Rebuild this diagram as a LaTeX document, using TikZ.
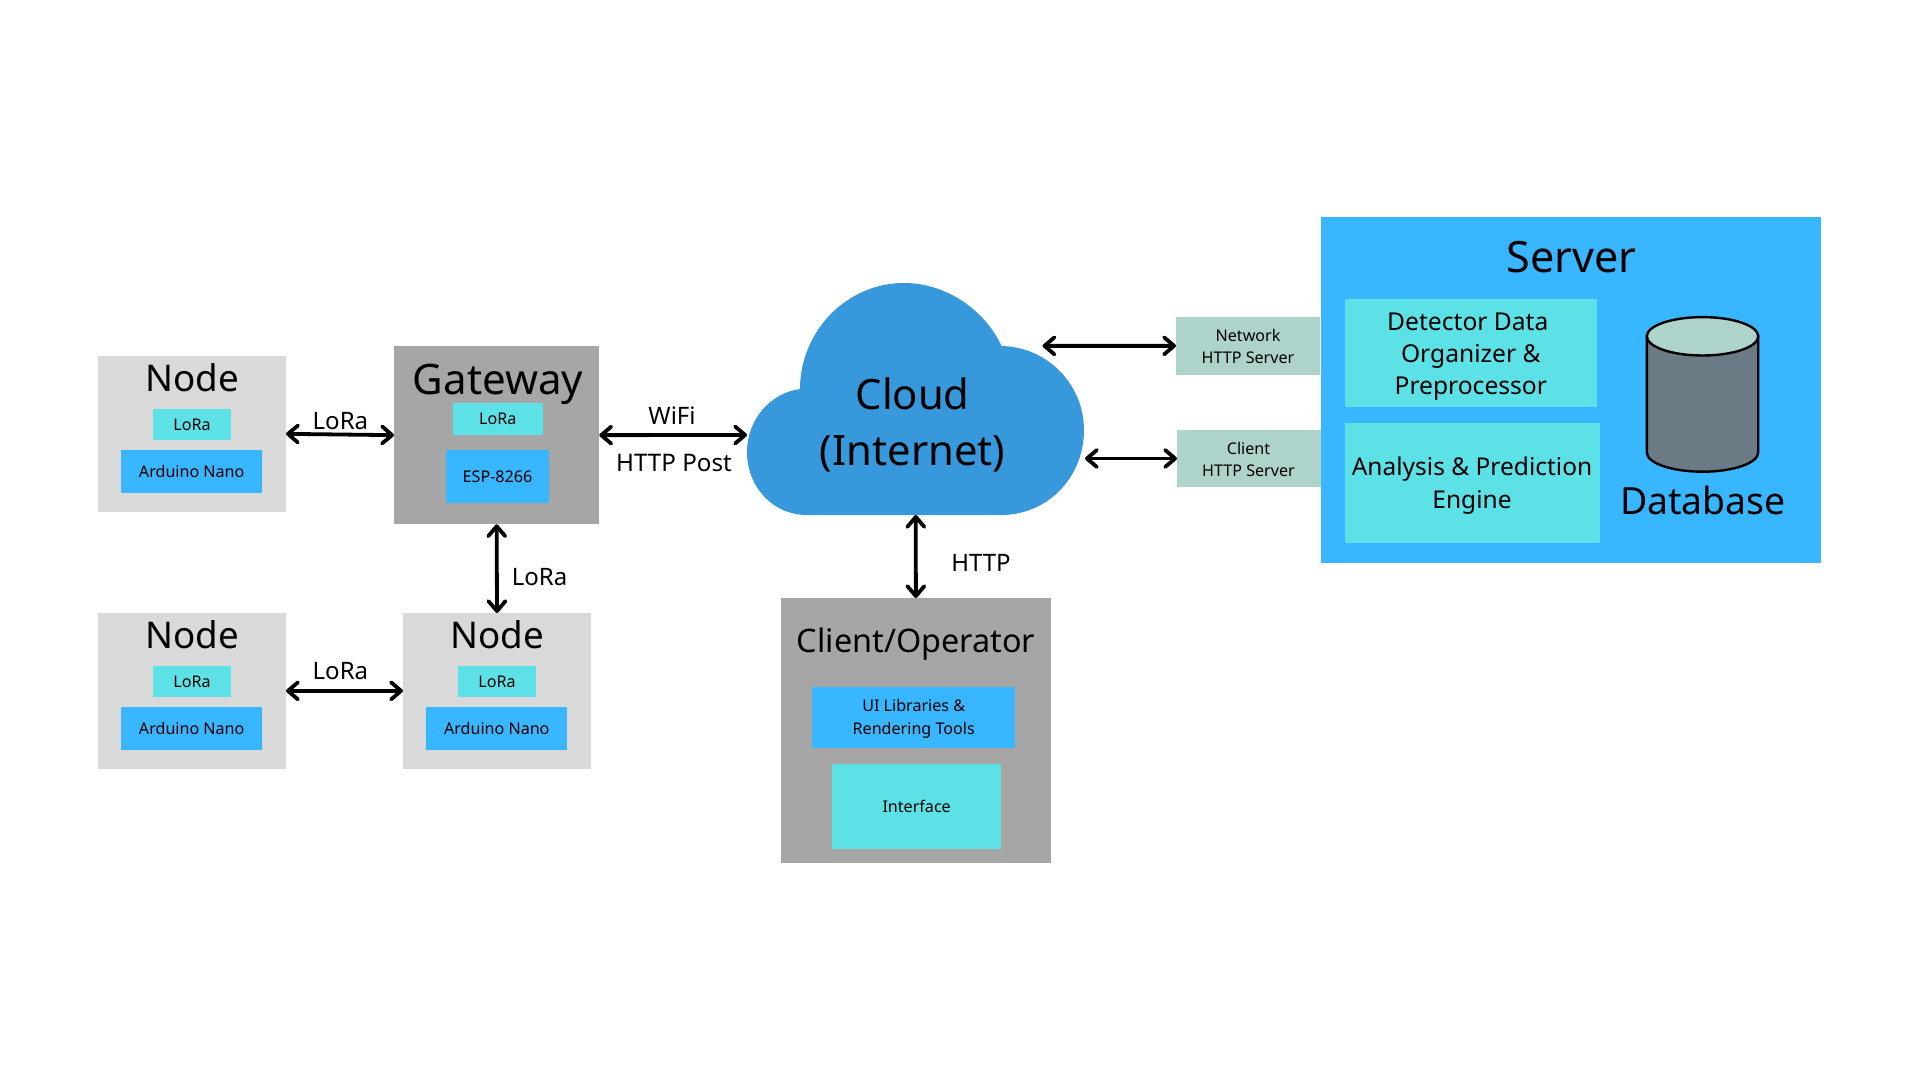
\documentclass[tikz,border=0pt]{standalone}
\usepackage{fontspec}
\setmainfont{Noto Sans}
\usetikzlibrary{arrows.meta}
\definecolor{lgrey}{HTML}{D9D9D9}
\definecolor{dgrey}{HTML}{A6A6A6}
\definecolor{cyanb}{HTML}{5CE1E6}
\definecolor{blueb}{HTML}{38B6FF}
\definecolor{cloudb}{HTML}{3798DB}
\definecolor{mintb}{HTML}{ADD3CB}
\definecolor{cylb}{HTML}{6A7B85}
\newcommand\Px[2]{\fontsize{#1}{#2}\selectfont}
\newcommand\Bx[7]{\node[#6, minimum width={(#4-#2)*0.5pt}, minimum height={(#5-#3)*0.5pt}] (#1) at ({(#2+#4)/2},{(#3+#5)/2}) {#7};}
\tikzset{
  box/.style={inner sep=0pt, outer sep=0pt, align=center, text=black},
  lightbox/.style={box, fill=lgrey},
  darkbox/.style={box, fill=dgrey},
  cyanbox/.style={box, fill=cyanb},
  bluebox/.style={box, fill=blueb},
  mintbox/.style={box, fill=mintb},
  small/.style={font=\Px{8.05}{10.8}},
  medium/.style={font=\Px{12.3}{16}},
  txt/.style={inner sep=0pt, outer sep=0pt, anchor=base, text=black},
  ctxt/.style={inner sep=0pt, outer sep=0pt, align=center, text=black},
  arr/.style={{Straight Barb[length=5pt,width=8.5pt,round]}-{Straight Barb[length=5pt,width=8.5pt,round]}, line width=1.9pt, black}
}
\begin{document}
\begin{tikzpicture}[x=0.5pt,y=-0.5pt]
\useasboundingbox (0,0) rectangle (1920,1080);
\fill[white] (0,0) rectangle (1920,1080);
% Node 1
\Bx{n1}{98}{356}{286}{511.7}{lightbox}{}
\node[txt,font=\Px{18.4}{20}] (n1t) at (192.5,391.7) {Node};
\Bx{n1l}{153}{409}{231}{440.3}{cyanbox,small}{LoRa}
\Bx{n1m}{121.4}{450}{262}{493.3}{bluebox,small}{Arduino Nano}
% Gateway
\Bx{gw}{394}{346}{599.3}{524.3}{darkbox}{}
\node[txt,font=\Px{21}{22}] (gwt) at (498,394) {Gateway};
\Bx{gwl}{452.5}{403.3}{542.9}{435}{cyanbox,small}{\raisebox{-0.6pt}{LoRa}}
\Bx{gwm}{446}{450}{549}{502.7}{bluebox,small}{ESP-8266}
% Node 3
\Bx{n3}{98}{613}{286}{768.7}{lightbox}{}
\node[txt,font=\Px{18.4}{20}] (n3t) at (192.5,648) {Node};
\Bx{n3l}{153}{666}{231}{697.3}{cyanbox,small}{LoRa}
\Bx{n3m}{121.4}{707}{262}{750.3}{bluebox,small}{Arduino Nano}
% Node 4
\Bx{n4}{403}{613}{591}{768.7}{lightbox}{}
\node[txt,font=\Px{18.4}{20}] (n4t) at (497.5,648) {Node};
\Bx{n4l}{458}{666}{536}{697.3}{cyanbox,small}{LoRa}
\Bx{n4m}{426.4}{707}{567.1}{750.3}{bluebox,small}{Arduino Nano}
% Cloud
\fill[cloudb] (800,389) .. controls (800,332) and (846,283) .. (904,283)
  .. controls (946,283) and (985,310) .. (1001.5,346)
  .. controls (1048,347) and (1084,385) .. (1084,430)
  .. controls (1084,477) and (1048,515) .. (1001,515)
  -- (807,515) .. controls (773,515) and (747,487) .. (747,452)
  .. controls (747,420) and (770,393) .. (800,389) -- cycle;
\node[ctxt,font=\Px{20.9}{28}] (cloud) at (912.6,425) {Cloud\\(Internet)};
\coordinate (cw) at (747,435);
\coordinate (cne) at (1042.5,345.9);
\coordinate (ce) at (1085,458.5);
\coordinate (cs) at (915.8,515);
% Client
\Bx{op}{780.7}{598}{1051}{863}{darkbox}{}
\node[txt,font=\Px{16.2}{17}] (opt) at (916,652.7) {Client/Operator};
\Bx{ui}{812}{687}{1015}{748}{bluebox}{}
\node[ctxt,small,font=\Px{8.05}{11.2}] (uit) at (913.7,719) {UI Libraries \&\\Rendering Tools};
\Bx{ifc}{832}{764}{1001.3}{849}{cyanbox,small}{Interface}
% Connector boxes
\Bx{nhs}{1176}{317}{1320}{374.7}{mintbox}{}
\node[ctxt,small] (nhst) at (1248,346.7) {Network\\HTTP Server};
\Bx{chs}{1177}{430}{1321}{487}{mintbox}{}
\node[ctxt,small] (chst) at (1248.5,459.5) {Client\\HTTP Server};
% Server
\Bx{srv}{1321}{217}{1821}{562.7}{bluebox}{}
\node[txt,font=\Px{21.6}{22}] (srvt) at (1571.4,273) {Server};
\Bx{det}{1344.6}{298.7}{1597}{407}{cyanbox}{}
\node[ctxt,medium] (dett) at (1470.8,356.5) {Detector Data\kern3pt\\Organizer \&\\Preprocessor};
\Bx{ana}{1344.6}{422.7}{1599.6}{542.7}{cyanbox}{}
\node[ctxt,font=\Px{12.25}{16.5}] (anat) at (1472,485.7) {Analysis \& Prediction\\Engine};
% Database cylinder
\filldraw[fill=cylb,draw=black,line width=1.2pt] (1646.8,335.8) -- (1646.8,452.5)
  arc[start angle=180,end angle=360,x radius=55.7,y radius=-19.2]
  -- (1758.2,335.8) -- cycle;
\filldraw[fill=mintb,draw=black,line width=1.2pt] (1702.5,336.3) ellipse[x radius=55.7,y radius=19.2];
\node[txt,font=\Px{18.7}{20}] (dbt) at (1703,514.3) {Database};
% Connectors
\draw[arr] (n1.east) -- (gw.west);
\draw[arr] (gw.south) -- (n4.north);
\draw[arr] (n3.east) -- (n4.west);
\draw[arr] (gw.east) -- (cw);
\draw[arr] (cne) -- (nhs.west);
\draw[arr] (ce) -- (chs.west);
\draw[arr] (cs) -- (op.north);
% Labels
\node[txt,font=\Px{12}{14}] (l1) at (340.4,429) {LoRa};
\node[txt,font=\Px{12}{14}] (l2) at (539.6,585) {LoRa};
\node[txt,font=\Px{12}{14}] (l3) at (340.4,679) {LoRa};
\node[txt,font=\Px{12}{14}] (l4) at (672,424.5) {WiFi};
\node[txt,font=\Px{12.1}{14}] (l5) at (674,471.5) {HTTP Post};
\node[txt,font=\Px{12}{14}] (l6) at (981,571.7) {HTTP};
\end{tikzpicture}
\end{document}
